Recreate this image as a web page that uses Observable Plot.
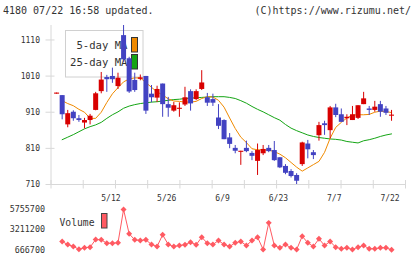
<!DOCTYPE html>
<html>
<head>
<meta charset="utf-8">
<script src="https://cdn.jsdelivr.net/npm/d3@7"></script>
<script src="https://cdn.jsdelivr.net/npm/@observablehq/plot@0.6"></script>
<style>
  html, body { margin: 0; padding: 0; background: #fff; }
  #chart { position: relative; width: 420px; height: 259px; overflow: hidden; }
  #chart svg { position: absolute; left: 0; top: 0; }
</style>
</head>
<body>
<div id="chart"></div>
<script>
// Trading days shown on the chart
const dates = [
  "4/23","4/24","4/25","4/28","4/30","5/1","5/2","5/7","5/8","5/9",
  "5/12","5/13","5/14","5/15","5/16","5/19","5/20","5/21","5/22","5/23",
  "5/26","5/27","5/28","5/29","5/30","6/2","6/3","6/4","6/5","6/6",
  "6/9","6/10","6/11","6/12","6/13","6/16","6/17","6/18","6/19","6/20",
  "6/23","6/24","6/25","6/26","6/27","6/30","7/1","7/2","7/3","7/4",
  "7/7","7/8","7/9","7/10","7/11","7/14","7/15","7/16","7/17","7/18",
  "7/22"
];

// Daily prices (yen)
const open = [
  960, 956, 875, 910, 892, 880, 887, 915, 967, 1006,
  1009, 981, 1122, 1058, 998, 1001, 1009, 960, 949, 988,
  931, 913, 918, 930, 967, 945, 973, 950, 945, 894,
  887, 839, 810, 799, 810, 796, 774, 795, 810, 804,
  784, 760, 746, 735, 765, 822, 798, 845, 878, 859,
  922, 903, 892, 887, 893, 931, 919, 915, 931, 919,
  899
];
const high = [
  963, 956, 915, 914, 901, 893, 904, 965, 1020, 1012,
  1032, 1018, 1150, 1062, 1018, 1013, 1009, 984, 982, 988,
  951, 937, 936, 979, 972, 972, 1025, 962, 960, 931,
  889, 851, 818, 802, 830, 801, 822, 818, 818, 829,
  784, 765, 751, 740, 827, 832, 804, 882, 885, 926,
  932, 919, 903, 926, 928, 965, 926, 940, 940, 926,
  915
];
const low = [
  960, 889, 867, 885, 882, 864, 875, 914, 961, 965,
  990, 973, 1048, 962, 965, 997, 904, 936, 937, 896,
  896, 910, 896, 926, 913, 942, 970, 926, 926, 862,
  834, 809, 795, 763, 798, 776, 735, 790, 798, 774,
  754, 737, 728, 710, 760, 781, 779, 830, 846, 836,
  895, 882, 873, 887, 890, 931, 901, 910, 896, 901,
  885
];
const close = [
  963, 903, 906, 892, 887, 887, 899, 961, 999, 1000,
  1000, 1004, 1055, 966, 970, 1005, 913, 950, 973, 931,
  921, 928, 921, 950, 933, 967, 991, 935, 935, 871,
  834, 821, 802, 802, 801, 788, 804, 807, 801, 776,
  756, 741, 732, 719, 825, 806, 790, 873, 873, 922,
  901, 882, 896, 903, 928, 947, 915, 924, 910, 907,
  902
];

// Moving averages
const ma5 = [
  null, 942, 934, 928, 918, 910, 893, 893, 910, 937,
  961, 978, 994, 1002, 1005, 1005, 992, 979, 966, 958,
  947, 941, 940, 938, 938, 940, 948, 953, 952, 943,
  924, 894, 865, 841, 826, 809, 806, 806, 805, 801,
  794, 784, 771, 758, 747, 756, 765, 774, 799, 838,
  868, 882, 894, 902, 903, 903, 904, 910, 913, 912,
  909
];
const ma25 = [
  null, 834, 841, 848, 856, 864, 870, 875, 882, 893,
  903, 911, 921, 927, 931, 934, 936, 938, 939, 941,
  943, 945, 946, 948, 949, 950, 951, 952, 953, 953,
  953, 951, 948, 942, 935, 926, 918, 911, 903, 895,
  888, 876, 866, 859, 853, 847, 843, 840, 838, 836,
  835, 833, 829, 827, 825, 831, 834, 838, 843, 847,
  850
];

// Daily volume (shares)
const volume = [
  null, 1712000, 1334000, 1082000, 742000, 919000, 994000, 1964000, 1926000, 1498000,
  1498000, 1548000, 5755700, 2682000, 1926000, 1838000, 1926000, 1334000, 1082000, 2556000,
  1334000, 1082000, 1208000, 1296000, 1624000, 1296000, 2254000, 1498000, 1334000, 1838000,
  1334000, 1082000, 1548000, 1712000, 1208000, 1838000, 2254000, 704000, 4067000, 1208000,
  919000, 1334000, 919000, 704000, 2380000, 1548000, 1082000, 2052000, 1208000, 1712000,
  994000, 793000, 919000, 704000, 994000, 1208000, 793000, 793000, 919000, 919000,
  666700
];

// Axis labels
const priceTicks = [710, 810, 910, 1010, 1110];
const volumeTicks = [666700, 3211200, 5755700];
const dateLabels = ["5/12", "5/26", "6/9", "6/23", "7/7", "7/22"];

// Styling
const FONT = "'DejaVu Sans Mono', monospace";
const TEXT = "#333";
const AXIS = "#d8d8d8";
const UP = "#d80000";
const DOWN = "#4242c2";
const MA5 = "#f08a00";
const MA25 = "#14a514";
const VOL = "#ff5a62";

const W = 420, H = 259;
const ML = 50.5, MR = 15;
const X_DOMAIN = [-1, 62.5];
const kx = (W - ML - MR) / (X_DOMAIN[1] - X_DOMAIN[0]);
const P_MT = 25, P_MB = 75;
const Y_DOMAIN = [710, 1150];
const ky = (H - P_MT - P_MB) / (Y_DOMAIN[1] - Y_DOMAIN[0]);
const xTicks = d3.range(12).map(k => X_DOMAIN[0] + k * (X_DOMAIN[1] - X_DOMAIN[0]) / 11);

const rows = dates.map((date, i) => ({
  i, date, open: open[i], high: high[i], low: low[i], close: close[i],
  ma5: ma5[i], ma25: ma25[i], volume: volume[i]
}));
const upRows = rows.filter(d => d.close >= d.open);
const downRows = rows.filter(d => d.close < d.open);
const volRows = rows.filter(d => d.volume != null);

const chart = d3.select("#chart");

// Header and legends (sit beneath the plotted marks)
const deco = chart.append("svg")
  .attr("width", W).attr("height", H)
  .style("font-family", FONT).attr("fill", TEXT);
deco.append("text").attr("x", 3).attr("y", 14).attr("font-size", 10)
  .text("4180 07/22 16:58 updated.");
deco.append("text").attr("x", 411).attr("y", 14).attr("font-size", 10)
  .attr("text-anchor", "end").text("(C)https://www.rizumu.net/");

const legendItems = [
  { label: "5-day MA", color: MA5 },
  { label: "25-day MA", color: MA25 }
];
deco.append("rect").attr("x", 65.5).attr("y", 30.5).attr("width", 77.5).attr("height", 46.5)
  .attr("fill", "#fff").attr("stroke", "#d0d0d0");
legendItems.forEach((d, k) => {
  deco.append("text").attr("x", 127.5).attr("y", 49 + k * 17).attr("font-size", 10.6)
    .attr("text-anchor", "end").text(d.label);
  deco.append("rect").attr("x", 131.5).attr("y", 37.5 + k * 17).attr("width", 6).attr("height", 14.5)
    .attr("fill", d.color).attr("stroke", "#333");
});
deco.append("text").attr("x", 59.5).attr("y", 226).attr("font-size", 9.7).text("Volume");
deco.append("rect").attr("x", 101.5).attr("y", 213.5).attr("width", 5.5).attr("height", 14.5)
  .attr("fill", VOL).attr("stroke", "#444");

// Price panel: candlesticks with moving averages
const pricePlot = Plot.plot({
  width: W, height: H,
  marginLeft: ML, marginRight: MR, marginTop: P_MT, marginBottom: P_MB,
  style: { background: "transparent", fontFamily: FONT, color: TEXT },
  x: { domain: X_DOMAIN, axis: null },
  y: { domain: Y_DOMAIN, axis: null },
  marks: [
    Plot.ruleX([X_DOMAIN[0]], { stroke: AXIS }),
    Plot.ruleY([Y_DOMAIN[0]], { stroke: AXIS }),
    Plot.ruleY(priceTicks, { y: d => d, x1: X_DOMAIN[0] - 5 / kx, x2: X_DOMAIN[0] + 4 / kx, stroke: AXIS }),
    Plot.ruleX(xTicks, { x: d => d, y1: Y_DOMAIN[0] - 4.5 / ky, y2: Y_DOMAIN[0] + 4 / ky, stroke: AXIS }),
    Plot.text(priceTicks, { x: X_DOMAIN[0], y: d => d, text: d => String(d), dx: -11,
      textAnchor: "end", fontSize: 8, fill: TEXT }),
    Plot.text(dateLabels, { x: d => dates.indexOf(d), y: Y_DOMAIN[0], text: d => d, dy: 14, dx: -1.5,
      fontSize: 8, fill: TEXT }),
    Plot.line(rows, { x: "i", y: "ma25", stroke: MA25, strokeWidth: 1 }),
    Plot.line(rows, { x: "i", y: "ma5", stroke: MA5, strokeWidth: 1 }),
    Plot.ruleX(upRows, { x: "i", y1: "low", y2: "high", stroke: UP, strokeWidth: 1 }),
    Plot.ruleX(downRows, { x: "i", y1: "low", y2: "high", stroke: DOWN, strokeWidth: 1 }),
    Plot.ruleX(upRows, { x: "i", y1: "open", y2: "close", stroke: UP, strokeWidth: 5 }),
    Plot.ruleX(downRows, { x: "i", y1: "open", y2: "close", stroke: DOWN, strokeWidth: 5 })
  ]
});

// Volume panel
const volumePlot = Plot.plot({
  width: W, height: H,
  marginLeft: ML, marginRight: MR, marginTop: 209, marginBottom: 9.7,
  style: { background: "transparent", fontFamily: FONT, color: TEXT },
  x: { domain: X_DOMAIN, axis: null },
  y: { domain: [volumeTicks[0], volumeTicks[2]], axis: null },
  marks: [
    Plot.text(volumeTicks, { x: X_DOMAIN[0], y: d => d, text: d => String(d), dx: -6,
      textAnchor: "end", fontSize: 8.4, fill: TEXT }),
    Plot.line(volRows, { x: "i", y: "volume", stroke: VOL, strokeWidth: 1 }),
    Plot.dot(volRows, { x: "i", y: "volume", symbol: "diamond2", r: 2.7, fill: VOL, stroke: "none" })
  ]
});

chart.node().appendChild(pricePlot);
chart.node().appendChild(volumePlot);
</script>
</body>
</html>
